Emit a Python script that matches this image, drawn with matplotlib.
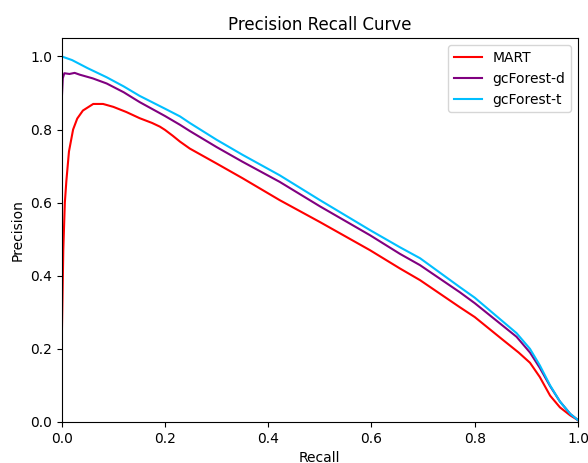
import matplotlib
matplotlib.use('Agg')
import matplotlib.pyplot as plt

# MART
recall_mart = [0.0, 0.001, 0.003, 0.006, 0.009, 0.014, 0.022, 0.03, 0.041, 0.061,
               0.08, 0.10, 0.125, 0.151, 0.175, 0.19, 0.2, 0.215, 0.229, 0.248, 0.3,
               0.35, 0.422, 0.5, 0.597, 0.655, 0.694, 0.771, 0.8, 0.855, 0.885,
               0.907, 0.926, 0.946, 0.965, 0.985, 1.0]
prec_mart = [0.22, 0.30, 0.47, 0.60, 0.66, 0.74, 0.80, 0.83, 0.852, 0.870,
             0.870, 0.862, 0.848, 0.831, 0.818, 0.808, 0.799, 0.783, 0.767, 0.748, 0.707,
             0.667, 0.607, 0.547, 0.47, 0.42, 0.388, 0.314, 0.287, 0.224, 0.19,
             0.162, 0.123, 0.072, 0.040, 0.018, 0.005]

# gcForest-d
recall_d = [0.0, 0.002, 0.005, 0.015, 0.025, 0.035, 0.06, 0.087, 0.12, 0.151,
            0.2, 0.229, 0.248, 0.3, 0.35, 0.422, 0.5, 0.597, 0.655, 0.694,
            0.771, 0.8, 0.881, 0.907, 0.926, 0.946, 0.965, 0.985, 1.0]
prec_d = [0.88, 0.94, 0.954, 0.952, 0.955, 0.95, 0.94, 0.926, 0.902, 0.875,
          0.837, 0.813, 0.796, 0.752, 0.712, 0.657, 0.59, 0.511, 0.46, 0.429,
          0.355, 0.325, 0.233, 0.19, 0.148, 0.098, 0.056, 0.022, 0.005]

# gcForest-t
recall_t = [0.0, 0.02, 0.05, 0.087, 0.12, 0.151, 0.2, 0.229, 0.248, 0.3,
            0.35, 0.422, 0.5, 0.597, 0.655, 0.694, 0.771, 0.8, 0.881, 0.907,
            0.926, 0.946, 0.965, 0.985, 1.0]
prec_t = [1.0, 0.99, 0.968, 0.943, 0.918, 0.892, 0.857, 0.836, 0.818, 0.772,
          0.731, 0.675, 0.607, 0.525, 0.478, 0.448, 0.369, 0.34, 0.243, 0.2,
          0.155, 0.10, 0.056, 0.022, 0.005]

fig = plt.figure(figsize=(5.88, 4.63), dpi=100)
ax = fig.add_axes([0.105, 0.0886, 0.878, 0.829])
ax.plot(recall_mart, prec_mart, color='red', label='MART')
ax.plot(recall_d, prec_d, color='purple', label='gcForest-d')
ax.plot(recall_t, prec_t, color='deepskyblue', label='gcForest-t')
ax.set_xlim(0, 1)
ax.set_ylim(0, 1.05)
ax.set_xlabel('Recall')
ax.set_ylabel('Precision')
ax.set_title('Precision Recall Curve')
ax.legend(loc='upper right')
fig.savefig('out.png', dpi=100)
